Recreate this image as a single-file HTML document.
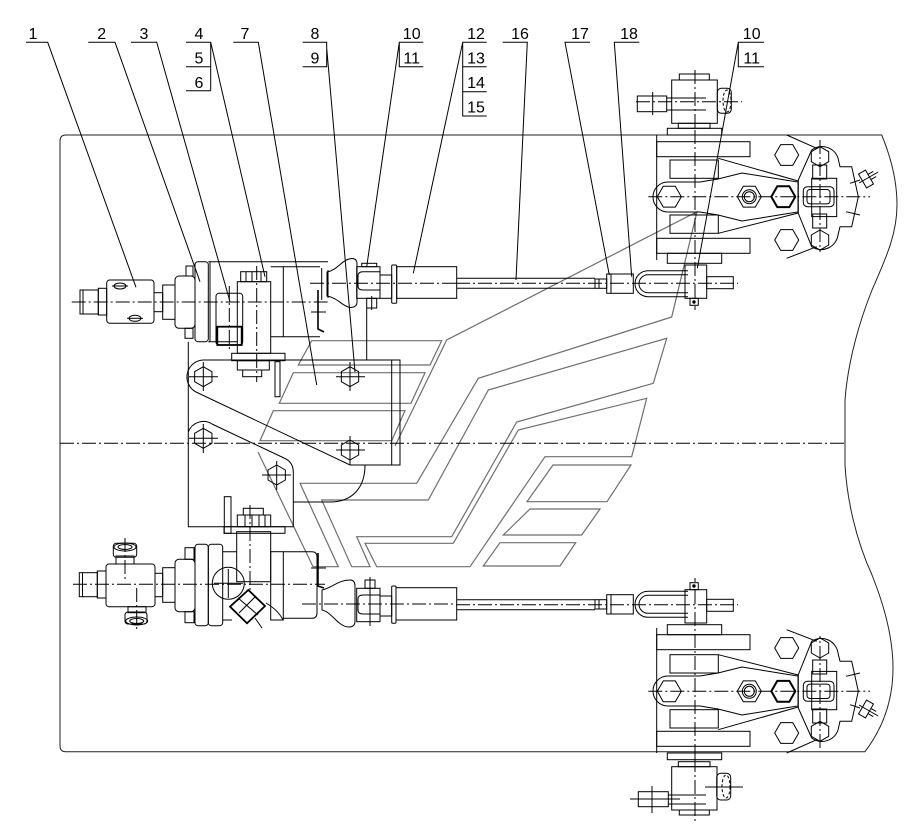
<!DOCTYPE html>
<html><head><meta charset="utf-8"><style>
html,body{margin:0;padding:0;background:#fff;}
svg{display:block;}
text{font-family:"Liberation Sans",Arial,sans-serif;font-size:16px;fill:#000;text-anchor:middle;}
.cl{stroke-dasharray:14,3,2,3;}
</style></head><body>
<svg width="917" height="834" viewBox="0 0 917 834" xmlns="http://www.w3.org/2000/svg">
<defs>
<polygon id="hv" points="0,-10 8.66,-5 8.66,5 0,10 -8.66,5 -8.66,-5"/>
<polygon id="hh" points="-12,0 -6,-10.4 6,-10.4 12,0 6,10.4 -6,10.4"/>
</defs>
<rect width="917" height="834" fill="#fff"/>

<!-- gray logo -->
<g fill="none" stroke="#6e6e6e" stroke-width="1.2">
<polygon points="311.7,340.7 441.7,340.7 430,365 298.3,365"/>
<polygon points="293.3,372.7 425,372.7 411,403.3 279.3,403.3"/>
<polygon points="273.3,410.7 405,410.7 391.7,440.7 260,440.7"/>
<polyline points="395,446 446.7,340 697,211.7 671.7,317 478.3,378.3 416.7,483.3 300,483.3 338.3,566.7 313,566.7 258,452"/>
<polygon points="321.7,500 428.3,500 488.3,390 666.7,338.3 653.3,383.3 516.7,422 451.7,536.7 356.7,536.7 370,566.7 351.7,566.7"/>
<polygon points="365,543.3 453.3,543.3 518.3,430 646.7,398.3 631.7,456.7 545,456.7 470,566.7 376.7,566.7"/>
<polygon points="553,465 631,465 607,501.7 527,501.7"/>
<polygon points="530,509 600,509 581.7,535 503.3,535"/>
<polygon points="500,542.7 575.7,542.7 560,566 483.3,566"/>
</g>

<g fill="none" stroke="#000" stroke-width="1">
<!-- frame -->
<path stroke="#222" d="M66,135 H881.7 C890,155 897,180 897,205 C897,235 885,260 872,290 C860,320 848,360 845,400 L845,465 C847,500 856,540 872,575 C886,610 893,640 893,668 C893,700 883,728 865,751.7 H66 Q60,751.7 60,745.7 V141 Q60,135 66,135 Z"/>
<line class="cl" x1="60" y1="443.3" x2="845" y2="443.3"/>

<!-- labels: underlines and leaders -->
<path d="M26,42.3 H47.7 L136,287.3"/>
<path d="M88.3,42.3 H115 L200,281.7"/>
<path d="M131,42.3 H156.7 L230,301.7"/>
<path d="M186,42.3 H210.7 L265,276.7 M186,66.7 H210.7 M186,90.7 H210.7 M210.7,42.3 V90.7"/>
<path d="M233.3,42.3 H258.3 L316.7,385"/>
<path d="M302.7,42.3 H326.7 V66.7 H302.7 M326.7,48 L355,372"/>
<path d="M423.3,42.3 H399.3 V66.7 H423.3 M399.3,42.3 L366.7,266.7"/>
<path d="M486.7,42.3 H462.7 V116 H486.7 M462.7,66.7 H486.7 M462.7,91.7 H486.7 M462.7,42.3 L413.3,273.3"/>
<path d="M502.7,42.3 H527.3 L516,280"/>
<path d="M590,42.3 H565 L609.3,275"/>
<path d="M639.3,42.3 H614.3 L631.7,276.7"/>
<path d="M764,42.3 H738.3 V66.7 H764 M738.3,42.3 L697.3,268.3"/>

<!-- upper left assembly -->
<line class="cl" x1="71.7" y1="302" x2="330" y2="302"/>
<rect x="80" y="290" width="18.3" height="24"/>
<line x1="83" y1="290" x2="83" y2="314"/>
<rect x="98.3" y="288.3" width="8.4" height="26.7"/>
<rect x="106.7" y="280" width="47.3" height="43.3" rx="3"/>
<ellipse cx="120" cy="286" rx="6" ry="3"/><line x1="112" y1="286" x2="128" y2="286"/>
<ellipse cx="135" cy="318.3" rx="6" ry="3"/><line x1="127" y1="318.3" x2="143" y2="318.3"/>
<rect x="154" y="292.7" width="8.7" height="19"/>
<rect x="162.7" y="285" width="12.3" height="34.3"/>
<rect x="175" y="276" width="20" height="52.3" rx="4"/>
<rect x="186" y="266" width="7" height="10"/>
<rect x="185" y="328.3" width="8" height="10"/>
<rect x="195" y="261.7" width="13.3" height="80" rx="3"/>
<path d="M208.3,261.7 H328 M208.3,341.7 H237.3 M270.7,336.7 H320 M270.7,266.7 H320 M283.3,266.7 V336.7 M321.7,268 V300 M328,270 V298 M210,261.7 V341.7"/>
<rect x="216" y="293.3" width="26.7" height="51.7" rx="3"/>
<rect x="217.3" y="326.7" width="24.4" height="18.3" stroke-width="1.8"/>
<line class="cl" x1="229.3" y1="286" x2="229.3" y2="350"/>
<rect x="237.3" y="281.7" width="33.4" height="71.6"/>
<rect x="240.7" y="271.7" width="26" height="10"/>
<path d="M246,271.7 V281.7 M252,271.7 V281.7 M261,271.7 V281.7"/>
<rect x="231.7" y="353.3" width="53.3" height="7.4"/>
<rect x="237.3" y="360.7" width="32" height="9.3"/>
<rect x="242.7" y="370" width="19" height="6.7"/>
<line class="cl" x1="256.7" y1="266" x2="256.7" y2="382"/>
<rect x="275" y="361.7" width="5" height="35"/>
<path d="M327,272 C338,270 342,259 352,258.5 Q357,258.5 357,264 L357,302 Q357,307.5 350,307.5 C342,306 338,298 327,296 Z"/>
<polyline points="318,290 318,329 324,332" stroke-width="1.6"/>
<line x1="311" y1="312" x2="326" y2="312"/>
<line class="cl" x1="310" y1="283.3" x2="456" y2="283.3"/>
<rect x="356.7" y="266.7" width="23.3" height="31.6"/>
<path d="M380,271.7 H363 Q358,271.7 358,276 V286 Q358,290 363,290 H380"/>
<rect x="361.7" y="263.3" width="15" height="3.4"/>
<rect x="366.7" y="298.3" width="10" height="9.7"/>
<line x1="371.7" y1="296" x2="371.7" y2="310"/>
<rect x="380" y="275" width="11.7" height="23.3"/>
<rect x="391.7" y="265" width="5" height="38.3" rx="1"/>
<rect x="396.7" y="266.7" width="60" height="31.6"/>
<line x1="366.7" y1="308" x2="366.7" y2="360"/>

<!-- bracket (part 7) -->
<path d="M400,360 H203 A17,17 0 0 0 196,392 L350,465 H400 Z"/>
<line x1="391.7" y1="360" x2="391.7" y2="465"/>
<path d="M188.3,341.7 V526.7 H293.3 V472 Q293.3,462 284,458 L212,424 A16,16 0 0 0 188.3,432"/>
<path d="M365,465 C365,488 352,502 330,502 H293.3"/>
<rect x="224.3" y="496.7" width="6.7" height="36.6"/>
<g>
<use href="#hv" x="203.3" y="376.7"/><use href="#hv" x="350" y="376.7"/>
<use href="#hv" x="203.3" y="438.3"/><use href="#hv" x="350" y="450"/>
<use href="#hv" x="276.7" y="475"/>
</g>
<path d="M189,376.7 H218 M203.3,362 V391 M336,376.7 H365 M350,362 V391 M189,438.3 H218 M203.3,424 V453 M336,450 H365 M350,436 V465 M262,475 H291 M276.7,461 V490"/>

<!-- lower left assembly -->
<line class="cl" x1="73" y1="584.3" x2="325" y2="584.3"/>
<rect x="79.3" y="572.7" width="18" height="24"/>
<line x1="82.5" y1="572.7" x2="82.5" y2="596.7"/>
<rect x="97.3" y="571" width="8.7" height="27"/>
<rect x="106" y="564" width="49" height="42.7" rx="3"/>
<rect x="116" y="556" width="18" height="8"/>
<rect x="113.3" y="543.3" width="23.4" height="14" rx="3"/>
<ellipse cx="125" cy="547" rx="11" ry="4"/><ellipse cx="125" cy="547" rx="7" ry="2.5"/>
<rect x="128" y="606.7" width="18" height="6"/>
<rect x="125" y="612" width="22" height="12" rx="3"/>
<ellipse cx="136.7" cy="621" rx="11" ry="4"/><ellipse cx="136.7" cy="621" rx="7" ry="2.5"/>
<line class="cl" x1="125" y1="538" x2="125" y2="580"/>
<line class="cl" x1="136.7" y1="588" x2="136.7" y2="632"/>
<rect x="155" y="573.3" width="7.7" height="23.4"/>
<rect x="162.7" y="567.7" width="12.3" height="34.6"/>
<rect x="175" y="559.3" width="20" height="52.4" rx="4"/>
<rect x="185" y="547.7" width="9" height="11.6"/>
<rect x="185" y="611.7" width="9" height="11"/>
<rect x="195" y="544.3" width="13.3" height="81.4" rx="3"/>
<rect x="208.3" y="544.3" width="14.4" height="81.4" rx="3"/>
<path d="M222.7,551.7 H236.7 M222.7,620 H232"/>
<rect x="236.7" y="531.7" width="34" height="50"/>
<rect x="224" y="526.7" width="61" height="6.6"/>
<rect x="237.3" y="515" width="33.4" height="11.7"/>
<path d="M245,515 V526.7 M252,515 V526.7 M259,515 V526.7 M265,515 V526.7"/>
<rect x="243.3" y="508.3" width="20" height="6.7"/>
<line class="cl" x1="250" y1="505" x2="250" y2="592"/>
<rect x="270.7" y="551.7" width="12.6" height="68.3"/>
<path d="M283.3,551.7 H312 Q317,551.7 317,557 V613 Q317,618.3 312,618.3 H283.3"/>
<circle cx="228.3" cy="583.3" r="16"/>
<path d="M214,583.3 H243 M228.3,569 V598"/>
<polygon points="230,606.7 248.3,590 265,606 247,623.3" stroke-width="1.8"/>
<path d="M238,598 L258,615 M256,596 L239,613 M255,618 L262,628"/>
<path d="M266,603 Q278,610 283,620"/>
<path d="M322,590 C332,588 338,580 350,580 Q355,580 355,586 L355,621 Q355,627 349,627 C338,627 332,612 322,610 Z"/>
<polyline points="318,553 318,586 324,588" stroke-width="1.6"/>
<line x1="311" y1="568" x2="326" y2="568"/>
<line class="cl" x1="302" y1="604" x2="456" y2="604"/>
<rect x="356.7" y="588.3" width="23.3" height="33.4"/>
<path d="M380,595 H363 Q358,595 358,599 V610 Q358,614 363,614 H380"/>
<rect x="365" y="580" width="10" height="8.3"/>
<line x1="370" y1="577" x2="370" y2="626"/>
<rect x="380" y="596" width="11.7" height="20"/>
<rect x="391.7" y="586" width="4.3" height="37.3" rx="1"/>
<rect x="396" y="587.7" width="60.7" height="32.3"/>

<!-- upper clamp -->
<rect x="679.3" y="74" width="30" height="6"/>
<rect x="671.7" y="80" width="45.6" height="43.3"/>
<rect x="637.3" y="96" width="29.4" height="15.7"/>
<path d="M666.7,98 H706 M666.7,110 H706 M652.7,92 V115"/>
<line class="cl" x1="636" y1="101.7" x2="742" y2="101.7"/>
<rect x="717.3" y="88.3" width="14" height="25" rx="4"/>
<ellipse cx="727" cy="101" rx="4" ry="11" stroke-dasharray="3,2"/>
<rect x="678.3" y="123.3" width="31.7" height="5"/>
<line class="cl" x1="695" y1="70" x2="695" y2="130"/>

<!-- lower clamp -->
<rect x="678.3" y="761.7" width="31.7" height="5"/>
<rect x="671.7" y="766.7" width="45.3" height="43.3"/>
<rect x="679.3" y="810" width="30" height="5"/>
<rect x="638.3" y="791.7" width="30" height="15"/>
<path d="M668,795 H706 M668,804 H706 M652,786 V813 M630,799 H680"/>
<rect x="716.7" y="773.3" width="14" height="26.7" rx="4"/>
<ellipse cx="726" cy="786.5" rx="4" ry="11.5" stroke-dasharray="3,2"/>
<line x1="705" y1="787" x2="743" y2="787"/>
<line class="cl" x1="695" y1="758" x2="695" y2="823"/>

<!-- right mechanism (upper), mirrored below -->
<g id="rm">
<path d="M456.7,278.3 H595 M456.7,288.3 H595"/>
<line class="cl" x1="456" y1="283.3" x2="738" y2="283.3"/>
<rect x="595" y="279" width="11.7" height="9.3"/>
<line x1="599" y1="279" x2="599" y2="288.3"/>
<rect x="606.7" y="274" width="26.6" height="19.3"/>
<line x1="611" y1="274" x2="611" y2="293.3"/>
<path d="M688,270.7 H648 A13,13 0 0 0 648,296.7 H688"/>
<path d="M688,274.7 H648 A9,9 0 0 0 648,292.7 H688"/>
<rect x="685" y="265" width="21.7" height="33.3"/>
<rect x="706.7" y="276.7" width="26.6" height="12"/>
<rect x="690" y="298.3" width="8.3" height="7"/>
<circle cx="694" cy="302" r="1.2" fill="#000"/>
<rect x="667.3" y="128.3" width="54.4" height="6.7"/>
<line x1="656.7" y1="135" x2="656.7" y2="260"/>
<rect x="656.7" y="141.7" width="93.3" height="15"/>
<rect x="670" y="160" width="48.3" height="18.3"/>
<rect x="670" y="215" width="48.3" height="18.3"/>
<rect x="656.7" y="238.3" width="93.3" height="15"/>
<rect x="667.3" y="253.3" width="54.4" height="10"/>
<path d="M668,182 L700,182 L718,179 L742,173 L785,180 L798,182 L798,212 L785,214 L742,221 L718,215 L700,212 L668,212 A15,15 0 0 1 668,182 Z"/>
<path d="M718.3,158.3 L798.3,181 M718.3,233.3 L798.3,213"/>
<g>
<use href="#hh" x="669.3" y="196.7"/>
<use href="#hh" x="749.3" y="196.7"/>
<use href="#hh" x="783.3" y="196.7" stroke-width="2"/>
<use href="#hh" x="786.7" y="155"/>
<use href="#hh" x="786.7" y="240"/>
</g>
<circle cx="749.3" cy="196.7" r="7"/><circle cx="749.3" cy="196.7" r="5"/>
<path d="M786.7,135 L816.7,148.3 M786.7,258.3 L816.7,246.7"/>
<path d="M798.3,213.3 L798.3,180 L811.7,150 A17,17 0 0 1 838,158 L840,166.7 L851.7,166.7 L858.3,196.7 L851.7,226.7 L840,226.7 L838,235 A17,17 0 0 1 811.7,246.7 Z"/>
<polygon points="820,146.7 828.7,151.7 828.7,161.7 820,166.7 811.3,161.7 811.3,151.7"/>
<polygon points="820,230 828.7,235 828.7,245 820,250 811.3,245 811.3,235"/>
<rect x="812.7" y="165" width="14" height="14"/>
<rect x="812.7" y="214" width="14" height="14"/>
<rect x="811.7" y="178.3" width="25" height="38.3"/>
<rect x="803.3" y="186.7" width="30.7" height="20" rx="4"/>
<rect x="807" y="189.5" width="23" height="14.4" rx="3"/>
<g transform="translate(866,179) rotate(-30)">
<rect x="-4" y="-8" width="8" height="16"/>
<path d="M4,-3 H10 M4,3 H10 M-8,0 H14"/>
</g>
<path d="M850,183.3 L860,180 M846,211.7 L860,215"/>
<line class="cl" x1="820" y1="140" x2="820" y2="252"/>
<line class="cl" x1="648.3" y1="196.7" x2="870" y2="196.7"/>
<line class="cl" x1="695" y1="130" x2="695" y2="310"/>
</g>
<use href="#rm" transform="matrix(1,0,0,-1,0,888)"/>
</g>

<!-- label text -->
<text x="33" y="39">1</text>
<text x="101.7" y="39">2</text>
<text x="144" y="39">3</text>
<text x="199" y="39">4</text>
<text x="199" y="63.5">5</text>
<text x="199" y="88">6</text>
<text x="245" y="39">7</text>
<text x="315" y="39">8</text>
<text x="315" y="63.5">9</text>
<text x="411.7" y="39">10</text>
<text x="411.7" y="63.5">11</text>
<text x="476" y="39">12</text>
<text x="476" y="63.5">13</text>
<text x="476" y="88">14</text>
<text x="476" y="112.5">15</text>
<text x="520" y="39">16</text>
<text x="580" y="39">17</text>
<text x="629" y="39">18</text>
<text x="751.7" y="39">10</text>
<text x="751.7" y="63.5">11</text>
</svg>
</body></html>
